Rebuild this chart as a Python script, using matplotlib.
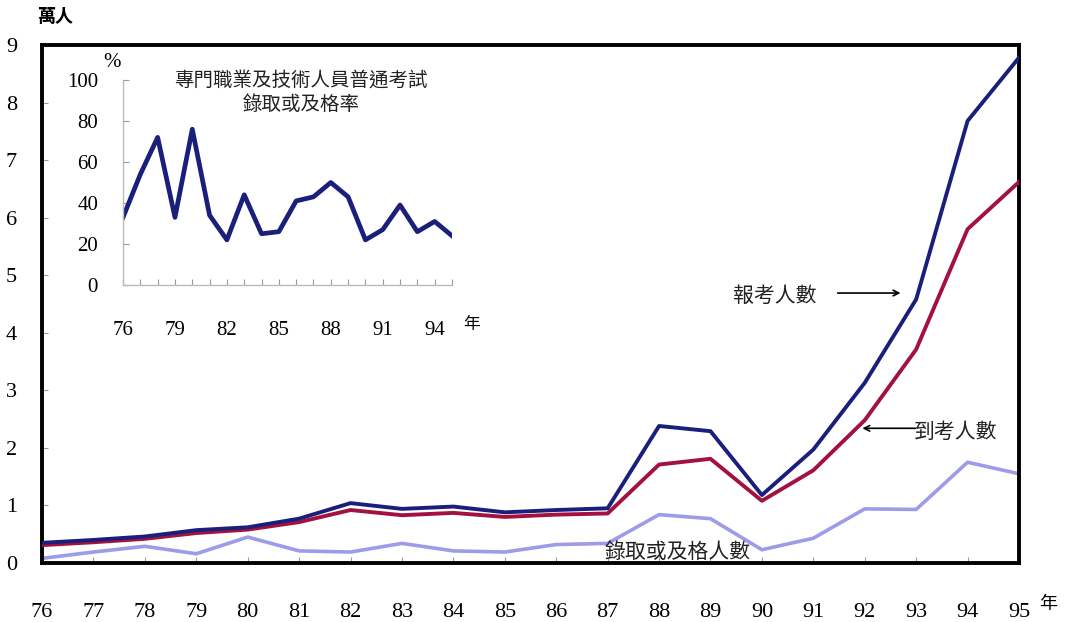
import matplotlib
matplotlib.use("Agg")
import matplotlib.pyplot as plt

plt.rcParams['font.family'] = ['Liberation Serif', 'Noto Sans CJK TC', 'DejaVu Sans']

years = list(range(76, 96))
year_labels = [str(y) for y in years]

# 萬人
applied = [0.35, 0.40, 0.46, 0.57, 0.62, 0.77, 1.04, 0.94, 0.98, 0.88,
           0.92, 0.95, 2.38, 2.29, 1.18, 1.97, 3.13, 4.58, 7.68, 8.78]
attended = [0.31, 0.36, 0.42, 0.52, 0.58, 0.71, 0.92, 0.83, 0.87, 0.80,
            0.84, 0.86, 1.71, 1.81, 1.08, 1.61, 2.48, 3.71, 5.80, 6.62]
passed = [0.08, 0.19, 0.29, 0.16, 0.45, 0.21, 0.19, 0.34, 0.21, 0.19,
          0.32, 0.34, 0.84, 0.77, 0.23, 0.43, 0.94, 0.93, 1.75, 1.55]

# 錄取或及格率 (%)
pass_rate = [33, 54, 72, 33, 76, 34, 22, 44, 25, 26,
             41, 43, 50, 43, 22, 27, 39, 26, 31, 24]
inset_ticks = [76, 79, 82, 85, 88, 91, 94]

CJK = ['Noto Sans CJK TC']
NAVY = '#1b1f7c'
CRIMSON = '#a3123f'
LAVENDER = '#9d9bea'

fig = plt.figure(figsize=(10.67, 6.22), dpi=100)
ax = fig.add_axes([0.0394, 0.0949, 0.9156, 0.8328])

ax.plot(years, passed, color=LAVENDER, lw=2.6, zorder=2)
ax.plot(years, attended, color=CRIMSON, lw=2.8, zorder=3)
ax.plot(years, applied, color=NAVY, lw=2.8, zorder=4)

ax.set_xlim(76, 95)
ax.set_ylim(0, 9)
ax.set_xticks(years)
ax.set_xticklabels(year_labels, fontsize=16)
ax.set_yticks(range(10))
ax.tick_params(axis='x', direction='in', length=4, pad=29, color='#999999')
ax.tick_params(axis='y', direction='in', length=4, pad=18, color='#999999', labelsize=16)
for s in ax.spines.values():
    s.set_linewidth(2.8)
    s.set_color('black')

ax.text(-0.005, 1.055, '萬人', transform=ax.transAxes, fontsize=13,
        fontweight='bold', family=CJK, ha='left', va='center')
ax.text(1.03, -0.08, '年', transform=ax.transAxes, fontsize=13,
        family=CJK, ha='center', va='center')

# labels with arrows
ax.text(90.25, 4.64, '報考人數', fontsize=15, family=CJK, color='#222222',
        ha='center', va='center')
ax.annotate('', xy=(92.75, 4.69), xytext=(91.42, 4.69),
            arrowprops=dict(arrowstyle='->', color='black', lw=1.2))
ax.text(93.76, 2.28, '到考人數', fontsize=15, family=CJK, color='#222222',
        ha='center', va='center')
ax.annotate('', xy=(91.9, 2.34), xytext=(93.04, 2.34),
            arrowprops=dict(arrowstyle='->', color='black', lw=1.2))
ax.text(88.37, 0.19, '錄取或及格人數', fontsize=15, family=CJK, color='#222222',
        ha='center', va='center', zorder=5)

# inset: pass rate
ins = fig.add_axes([0.1153, 0.5418, 0.3083, 0.3296])
ins.patch.set_alpha(0)
ins.plot(years, pass_rate, color=NAVY, lw=3.4)
ins.set_xlim(76, 95)
ins.set_ylim(0, 100)
ins.set_xticks(years)
ins.set_xticklabels([str(y) if y in inset_ticks else '' for y in years], fontsize=15)
ins.set_yticks(range(0, 101, 20))
ins.tick_params(axis='x', direction='in', length=4, pad=26, color='#999999')
ins.tick_params(axis='y', direction='in', length=4, pad=18, color='#999999', labelsize=15)
ins.spines['top'].set_visible(False)
ins.spines['right'].set_visible(False)
for s in ('left', 'bottom'):
    ins.spines[s].set_color('#bbbbbb')
    ins.spines[s].set_linewidth(1.0)

ins.text(-0.035, 1.085, '%', transform=ins.transAxes, fontsize=15,
         ha='center', va='center')
ins.text(1.06, -0.195, '年', transform=ins.transAxes, fontsize=12,
         family=CJK, ha='center', va='center')
ins.text(0.54, 0.94, '專門職業及技術人員普通考試\n錄取或及格率', transform=ins.transAxes,
         fontsize=14, family=CJK, color='#222222', ha='center', va='center',
         linespacing=1.15)

fig.savefig('out.png', dpi=100)
